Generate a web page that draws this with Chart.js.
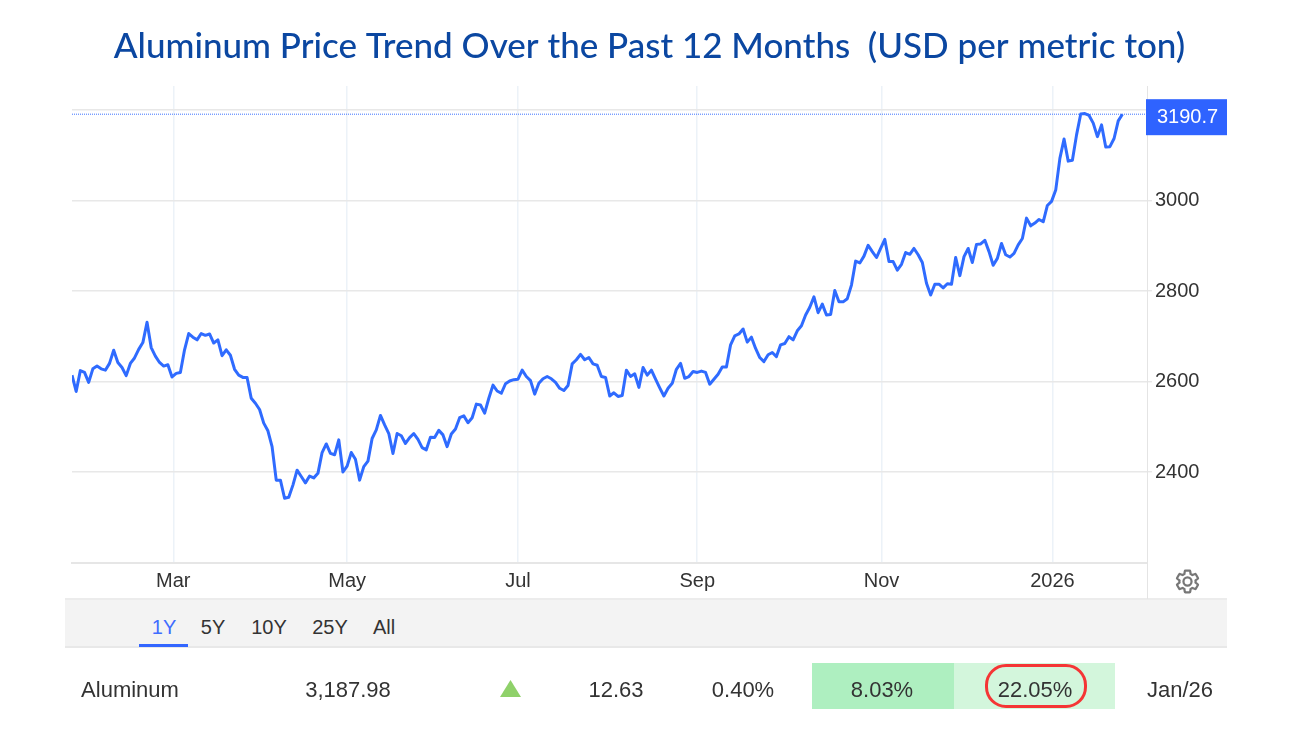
<!DOCTYPE html>
<html><head><meta charset="utf-8">
<script src="https://cdn.jsdelivr.net/npm/chart.js@4"></script>
<style>
html,body{margin:0;padding:0;background:#fff;width:1300px;height:730px;overflow:hidden}
#c{position:absolute;left:0;top:0}
.t{position:absolute;font:22px "Liberation Sans",Arial,sans-serif;color:#333;white-space:nowrap;transform:translate(-50%,-50%)}
.b{position:absolute}
.r{font-size:20px}
</style></head><body>
<canvas id="c" width="1300" height="730"></canvas>
<div class="b" style="left:65px;top:598px;width:1162px;height:50px;background:#f3f3f3;border-top:2px solid #ececec;border-bottom:2px solid #e8e8e8;box-sizing:border-box"></div>
<div class="b" style="left:1147px;top:562px;width:1px;height:37px;background:#e4e4e4"></div>
<div class="b" style="left:139px;top:644px;width:49px;height:3px;background:#3366ff"></div>
<div class="t r" style="left:164px;top:627px;color:#3f6cff">1Y</div>
<div class="t r" style="left:213px;top:627px">5Y</div>
<div class="t r" style="left:269px;top:627px">10Y</div>
<div class="t r" style="left:330px;top:627px">25Y</div>
<div class="t r" style="left:384px;top:627px">All</div>
<svg class="b" style="left:1174px;top:568px" width="27" height="27" viewBox="0 0 24 24"><path fill="none" stroke="#777" stroke-width="2" d="M19.14,12.94c0.04-0.3,0.06-0.61,0.06-0.94c0-0.32-0.02-0.64-0.07-0.94l2.03-1.58c0.18-0.14,0.23-0.41,0.12-0.61l-1.92-3.32c-0.12-0.22-0.37-0.29-0.59-0.22l-2.39,0.96c-0.5-0.38-1.03-0.7-1.62-0.94L14.4,2.81c-0.04-0.24-0.24-0.41-0.48-0.41h-3.84c-0.24,0-0.43,0.17-0.47,0.41L9.25,5.35C8.66,5.59,8.12,5.92,7.63,6.29L5.24,5.33c-0.22-0.08-0.47,0-0.59,0.22L2.74,8.87C2.62,9.08,2.66,9.34,2.86,9.48l2.03,1.58C4.84,11.36,4.8,11.69,4.8,12s0.02,0.64,0.07,0.94l-2.03,1.58c-0.18,0.14-0.23,0.41-0.12,0.61l1.92,3.32c0.12,0.22,0.37,0.29,0.59,0.22l2.39-0.96c0.5,0.38,1.03,0.7,1.62,0.94l0.36,2.54c0.05,0.24,0.24,0.41,0.48,0.41h3.84c0.24,0,0.44-0.17,0.47-0.41l0.36-2.54c0.59-0.24,1.13-0.56,1.62-0.94l2.39,0.96c0.22,0.08,0.47,0,0.59-0.22l1.92-3.32c0.12-0.22,0.07-0.47-0.12-0.61L19.14,12.94z M12,15.6c-1.98,0-3.6-1.62-3.6-3.6s1.62-3.6,3.6-3.6s3.6,1.62,3.6,3.6S13.98,15.6,12,15.6z"/></svg>
<div class="b" style="left:812px;top:663px;width:142px;height:46px;background:#aeefc0"></div>
<div class="b" style="left:954px;top:663px;width:161px;height:46px;background:#d3f6dc"></div>
<div class="b" style="left:985px;top:664px;width:102px;height:44px;box-sizing:border-box;border:3.5px solid #f53535;border-radius:21px"></div>
<svg class="b" style="left:500px;top:680px" width="21" height="17"><polygon points="10.5,0 21,17 0,17" fill="#8fd16a"/></svg>
<div class="t" style="left:130px;top:690px">Aluminum</div>
<div class="t" style="left:348px;top:690px">3,187.98</div>
<div class="t" style="left:616px;top:690px">12.63</div>
<div class="t" style="left:743px;top:690px">0.40%</div>
<div class="t" style="left:882px;top:690px">8.03%</div>
<div class="t" style="left:1035px;top:690px">22.05%</div>
<div class="t" style="left:1180px;top:690px">Jan/26</div>
<script>
const titleText = 'Aluminum Price Trend Over the Past 12 Months  (USD per metric ton)';
const seriesName = 'Aluminum';
const prices = [
2614,2578,2624,2620,2598,2628,2634,2628,2625,2640,2669,2642,2631,2613,2640,2652,2671,2686,2731,2675,
2656,2642,2634,2637,2610,2618,2620,2670,2706,2698,2692,2706,2702,2705,2685,2692,2657,2670,2658,2627,
2614,2609,2609,2563,2552,2538,2508,2491,2456,2382,2382,2342,2344,2371,2404,2390,2376,2391,2387,2397,
2443,2462,2441,2438,2471,2400,
2413,2443,2428,2382,2412,2424,2474,2493,2525,2504,2485,2441,2485,2480,2463,2476,2485,2472,2454,2449,
2477,2476,2492,2482,2456,2484,2495,2520,2524,2509,2520,2550,2548,2530,2563,2592,2579,2574,2595,2601,
2604,2605,2625,2611,2602,2572,2596,2606,2611,2606,2598,2585,2580,2591,2639,2648,2660,2648,2653,2639,
2636,2611,2609,2568,2575,2567,2569,2625,2611,2617,2587,
2631,2614,2625,2605,2586,2568,2585,2596,2627,2640,2607,2611,2622,2620,2623,2620,2594,2605,2616,2632,
2632,2681,2701,2705,2716,2687,2698,2673,2653,2644,2659,2664,2655,2681,2684,2699,2692,2712,2723,2747,
2764,2787,2752,2771,2747,2748,2801,2776,2776,2783,2813,2866,2862,2877,2901,2887,2874,2894,2914,2865,
2865,2846,2859,2885,2881,2894,2880,2863,2817,2791,
2815,2815,2807,2816,2815,2874,2834,2876,2894,2863,2903,2904,2912,2887,2857,2872,2905,2880,2875,2883,
2902,2916,2961,2944,2950,2958,2953,2989,2998,3023,3093,3136,3087,3089,3145,3191,3192,3188,3171,3141,
3167,3118,3119,3137,3176,3190.7];
const lastPrice = 3190.7;
const tickIndexes = [24.3,66,107,150,194.2,235.2];
const tickLabels = ['Mar','May','Jul','Sep','Nov','2026'];
const yTicks = [2200,2400,2600,2800,3000,3200];
const yLabelled = [2400,2600,2800,3000];
const xEnd = 257.9, yMin = 2200, yMax = 3253;

const badge = {id:'badge',afterDraw(ch){
  const y = ch.scales.y.getPixelForValue(lastPrice), g = ch.ctx;
  g.save();
  g.fillStyle='#2f63ff'; g.fillRect(1146,y-15,81,36);
  g.fillStyle='#fff'; g.font='20px "Liberation Sans",Arial,sans-serif';
  g.textAlign='center'; g.textBaseline='middle';
  g.fillText(lastPrice.toFixed(1),1187.5,y+3.5);
  g.restore();
}};

new Chart(document.getElementById('c'),{
  type:'line',
  data:{datasets:[
    {label:seriesName,data:prices.map((v,i)=>({x:i,y:v})),borderColor:'#2f6bff',borderWidth:3,pointRadius:0,tension:0,borderJoinStyle:'round'},
    {label:'Last',data:[{x:0,y:lastPrice},{x:xEnd,y:lastPrice}],borderColor:'#3f74ff',borderWidth:1,borderDash:[1,1],pointRadius:0}
  ]},
  plugins:[badge],
  options:{
    responsive:false,animation:false,
    layout:{padding:{left:72,right:73,bottom:131.5,top:0}},
    plugins:{
      legend:{display:false},tooltip:{enabled:false},
      title:{display:true,text:titleText,color:'#0b47a1',font:{family:'Lato',size:35,weight:'500'},padding:{top:26,bottom:18}}
    },
    scales:{
      x:{type:'linear',min:0,max:xEnd,
        afterBuildTicks(s){s.ticks=tickIndexes.map(v=>({value:v}));},
        afterFit(s){s.height=36;},
        grid:{color:'#ecf2f8',lineWidth:1.5,drawTicks:false},
        border:{color:'#e6e6e6',width:2},
        ticks:{autoSkip:false,maxRotation:0,padding:7,color:'#333',font:{family:'Liberation Sans',size:20},
          callback(v){return tickLabels[tickIndexes.indexOf(v)]||'';}}
      },
      y:{position:'right',min:yMin,max:yMax,
        afterBuildTicks(s){s.ticks=yTicks.map(v=>({value:v}));},
        afterFit(s){s.width=80;},
        grid:{color:'#e8e8e8',lineWidth:1.4,tickLength:5,tickColor:c=>(c.tick&&c.tick.value===yMin)?'transparent':'#e8e8e8'},
        border:{color:'#e4e4e4',width:1},
        ticks:{autoSkip:false,padding:3,color:'#333',font:{family:'Liberation Sans',size:20},
          callback(v){return yLabelled.includes(v)?String(v):'';}}
      }
    }
  }
});
</script>
</body></html>
